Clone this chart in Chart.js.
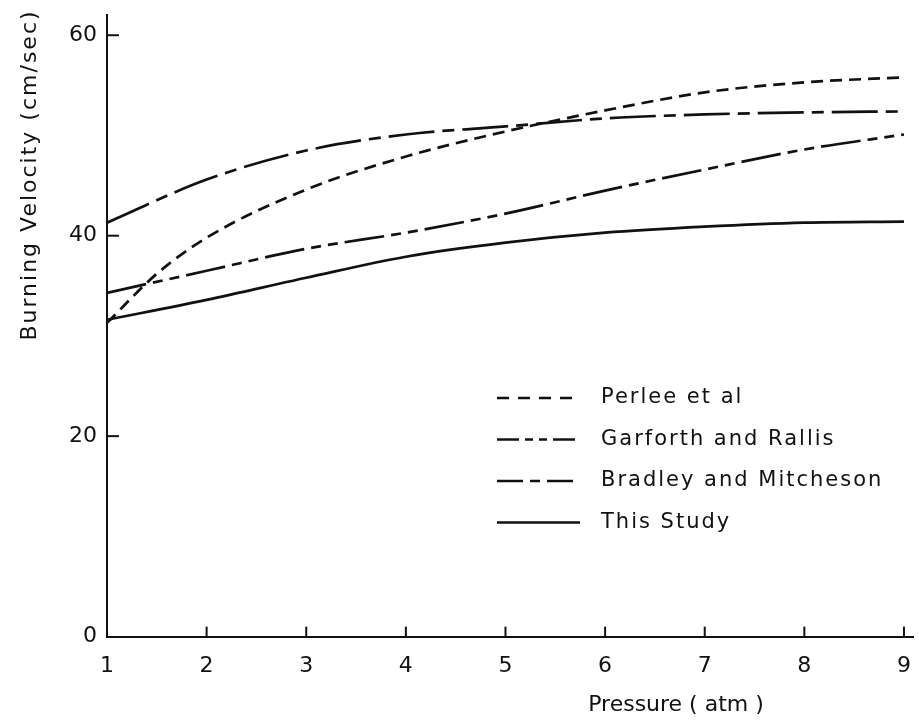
<!DOCTYPE html>
<html>
<head>
<meta charset="utf-8">
<script src="https://cdn.jsdelivr.net/npm/chart.js@4.4.0/dist/chart.umd.min.js"></script>
<style>
  html, body { margin: 0; padding: 0; background: #fff; }
  canvas { display: block; }
</style>
</head>
<body>
<canvas id="grafico" width="919" height="726"></canvas>
<script>
// datos
var presion = [1, 2, 3, 4, 5, 6, 7, 8, 9];
var presionPerlee = [1, 1.5, 2, 3, 4, 5, 6, 7, 8, 9];
var perlee = [31.3, 36.2, 39.8, 44.6, 47.9, 50.4, 52.5, 54.3, 55.3, 55.8];
var garforth = [34.3, 36.5, 38.7, 40.3, 42.2, 44.5, 46.6, 48.6, 50.1];
var bradley = [41.3, 45.6, 48.5, 50.1, 50.9, 51.7, 52.1, 52.3, 52.4];
var esteEstudio = [31.6, 33.6, 35.8, 37.9, 39.3, 40.3, 40.9, 41.3, 41.4];
var ticksX = [1, 2, 3, 4, 5, 6, 7, 8, 9];
var ticksY = [0, 20, 40, 60];

var fuente = "'DejaVu Sans', sans-serif";
var negro = '#111';

function serie(label, xs, valores, dash, dashLeyenda) {
  return {
    label: label,
    data: xs.map(function (p, i) { return { x: p, y: valores[i] }; }),
    borderColor: negro,
    borderWidth: 2.7,
    borderDash: dash,
    legendDash: dashLeyenda,
    pointRadius: 0,
    fill: false,
    cubicInterpolationMode: 'monotone'
  };
}

// marcas de ejes, titulos y leyenda
var extras = {
  id: 'extras',
  afterDraw: function (chart) {
    var ctx = chart.ctx;
    var x = chart.scales.x, y = chart.scales.y;
    var area = chart.chartArea;
    ctx.save();
    ctx.strokeStyle = negro;
    ctx.lineWidth = 2;
    // ticks hacia adentro
    ticksX.slice(1).forEach(function (v) {
      var px = x.getPixelForValue(v);
      ctx.beginPath(); ctx.moveTo(px, area.bottom); ctx.lineTo(px, area.bottom - 10); ctx.stroke();
    });
    ticksY.slice(1).forEach(function (v) {
      var py = y.getPixelForValue(v);
      ctx.beginPath(); ctx.moveTo(area.left, py); ctx.lineTo(area.left + 12, py); ctx.stroke();
    });
    // titulos
    ctx.fillStyle = negro;
    ctx.font = '22px ' + fuente;
    ctx.textAlign = 'center';
    ctx.textBaseline = 'middle';
    ctx.letterSpacing = '0px';
    ctx.fillText('Pressure ( atm )', 676, 705);
    ctx.letterSpacing = '2px';
    ctx.translate(30, 175);
    ctx.rotate(-Math.PI / 2);
    ctx.fillText('Burning Velocity (cm/sec)', 0, 0);
    ctx.setTransform(1, 0, 0, 1, 0, 0);
    // leyenda
    ctx.font = '21px ' + fuente;
    ctx.letterSpacing = '2px';
    ctx.textAlign = 'left';
    chart.data.datasets.forEach(function (ds, i) {
      var ly = 398 + i * 41.5;
      ctx.setLineDash(ds.legendDash);
      ctx.lineWidth = 2.4;
      ctx.beginPath(); ctx.moveTo(497, ly); ctx.lineTo(580, ly); ctx.stroke();
      ctx.setLineDash([]);
      ctx.fillText(ds.label, 601, ly);
    });
    ctx.restore();
  }
};

var datos = {
  datasets: [
    serie('Perlee et al', presionPerlee, perlee, [12, 7], [12, 9]),
    serie('Garforth and Rallis', presion, garforth, [40, 7, 10, 7, 10, 7], [22, 6, 8, 6, 8, 6]),
    serie('Bradley and Mitcheson', presion, bradley, [46, 8, 12, 8], [26, 7, 10, 7]),
    serie('This Study', presion, esteEstudio, [], [])
  ]
};

var ctxGrafico = document.getElementById('grafico').getContext('2d');
var grafico = new Chart(ctxGrafico, {
  type: 'line',
  data: datos,
  options: {
    responsive: false,
    animation: false,
    devicePixelRatio: 1,
    layout: { padding: { left: 0, right: 3, top: -8, bottom: 39 } },
    plugins: { legend: { display: false }, tooltip: { enabled: false } },
    scales: {
      x: {
        type: 'linear',
        min: 1, max: 9.1,
        border: { color: negro, width: 2 },
        grid: { display: false },
        afterBuildTicks: function (s) { s.ticks = ticksX.map(function (v) { return { value: v }; }); },
        ticks: { color: negro, font: { size: 22, family: fuente }, padding: 8, maxRotation: 0 }
      },
      y: {
        min: 0, max: 62,
        afterFit: function (s) { s.width = 107; },
        border: { color: negro, width: 2 },
        grid: { display: false },
        afterBuildTicks: function (s) { s.ticks = ticksY.map(function (v) { return { value: v }; }); },
        ticks: { color: negro, font: { size: 22, family: fuente }, padding: 2 }
      }
    }
  },
  plugins: [extras]
});
</script>
</body>
</html>
